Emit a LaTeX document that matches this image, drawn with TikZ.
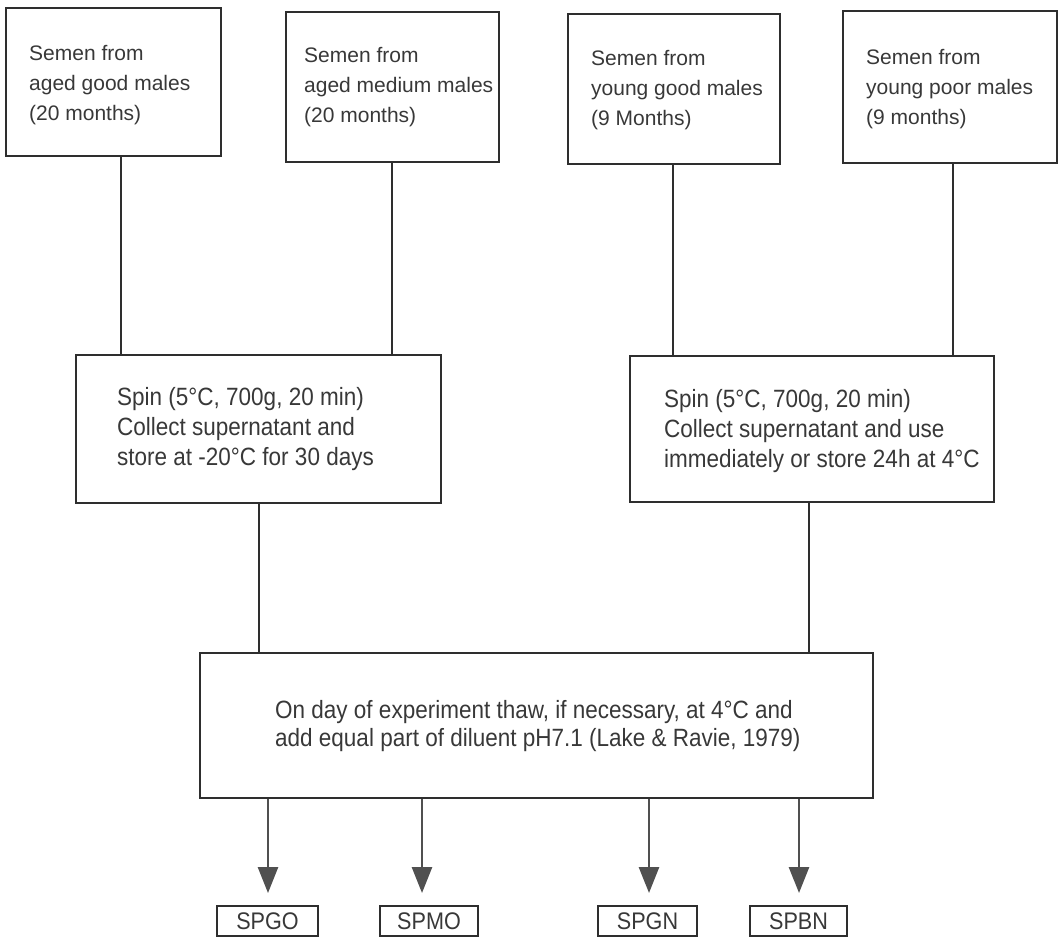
\documentclass[tikz,border=0pt]{standalone}
\usepackage{fontspec}
\setmainfont{Liberation Sans}
\newfontfamily\cond{Liberation Sans}[FakeStretch=0.9]
\usetikzlibrary{arrows.meta}
\definecolor{ink}{HTML}{2E2E2E}
\definecolor{txtc}{HTML}{383838}
\definecolor{arr}{HTML}{505050}
\tikzset{
  box/.style={draw=ink, line width=1.6pt, rectangle, inner sep=0pt, anchor=north west},
  toptext/.style={font=\fontsize{21}{30}\selectfont, text=txtc, align=left, inner sep=0pt, anchor=base west},
  midtext/.style={font=\cond\fontsize{25}{30}\selectfont, text=txtc, align=left, inner sep=0pt, anchor=base west},
  bottext/.style={font=\cond\fontsize{25}{28}\selectfont, text=txtc, align=left, inner sep=0pt, anchor=base west},
  lab/.style={draw=ink, line width=1.6pt, rectangle, inner sep=0pt, minimum height=30pt, font=\cond\fontsize{24}{28}\selectfont, text=txtc},
  conn/.style={draw=ink, line width=1.6pt},
  arrowline/.style={draw=arr, line width=2.6pt, -{Triangle[width=20pt,length=26pt]}},
}
\begin{document}
\begin{tikzpicture}[x=1pt,y=-1pt]
\useasboundingbox (0,0) rectangle (1061,944);
% top boxes
\node[box, minimum width=215pt, minimum height=148pt] (b1) at (5,7) {};
\node[box, minimum width=213pt, minimum height=150pt] (b2) at (285,11) {};
\node[box, minimum width=212pt, minimum height=150pt] (b3) at (567,13) {};
\node[box, minimum width=214pt, minimum height=152pt] (b4) at (842,10) {};
% text nodes anchored at the baseline of their last line
\node[toptext] (t1) at (29,121) {Semen from\\aged good males\\(20 months)};
\node[toptext] (t2) at (304,123) {Semen from\\aged medium males\\(20 months)};
\node[toptext] (t3) at (591,126) {Semen from\\young good males\\(9 Months)};
\node[toptext] (t4) at (866,125) {Semen from\\young poor males\\(9 months)};
% middle boxes
\node[box, minimum width=365pt, minimum height=148pt] (m1) at (75,354) {};
\node[box, minimum width=364pt, minimum height=146pt] (m2) at (629,355) {};
\node[midtext] (tm1) at (117,465) {Spin (5\textdegree C, 700g, 20 min)\\Collect supernatant and\\store at -20\textdegree C for 30 days};
\node[midtext] (tm2) at (664,467) {Spin (5\textdegree C, 700g, 20 min)\\Collect supernatant and use\\immediately or store 24h at 4\textdegree C};
% bottom box
\node[box, minimum width=673pt, minimum height=145pt] (bb) at (199,652) {};
\node[bottext] (tb) at (275,746) {On day of experiment thaw, if necessary, at 4\textdegree C and\\add equal part of diluent pH7.1 (Lake \& Ravie, 1979)};
% labels
\node[lab, minimum width=101pt] (l1) at (267.5,921) {SPGO};
\node[lab, minimum width=98pt] (l2) at (429,921) {SPMO};
\node[lab, minimum width=99pt] (l3) at (647.5,921) {SPGN};
\node[lab, minimum width=97pt] (l4) at (798.5,921) {SPBN};
% connector x positions
\coordinate (x1) at (121,0);
\coordinate (x2) at (392,0);
\coordinate (x3) at (673,0);
\coordinate (x4) at (953,0);
\coordinate (x5) at (259,0);
\coordinate (x6) at (809,0);
\draw[conn] (b1.south -| x1) -- (m1.north -| x1);
\draw[conn] (b2.south -| x2) -- (m1.north -| x2);
\draw[conn] (b3.south -| x3) -- (m2.north -| x3);
\draw[conn] (b4.south -| x4) -- (m2.north -| x4);
\draw[conn] (m1.south -| x5) -- (bb.north -| x5);
\draw[conn] (m2.south -| x6) -- (bb.north -| x6);
% arrows
\coordinate (a1) at (268,893);
\coordinate (a2) at (422,893);
\coordinate (a3) at (649,893);
\coordinate (a4) at (799,893);
\draw[arrowline] (bb.south -| a1) -- (a1);
\draw[arrowline] (bb.south -| a2) -- (a2);
\draw[arrowline] (bb.south -| a3) -- (a3);
\draw[arrowline] (bb.south -| a4) -- (a4);
\end{tikzpicture}
\end{document}
